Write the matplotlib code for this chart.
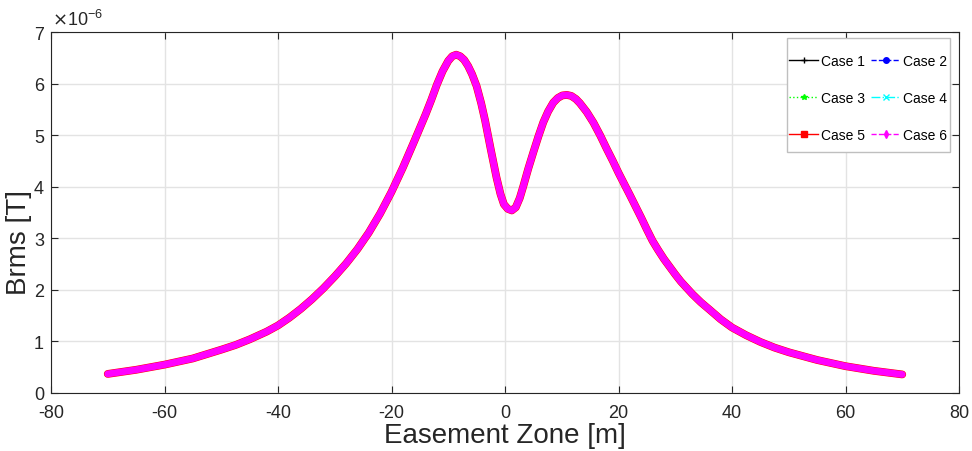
import matplotlib
matplotlib.use("Agg")
import matplotlib.pyplot as plt
from matplotlib.lines import Line2D
from matplotlib.patches import Rectangle
import numpy as np

plt.rcParams['font.family'] = ['Liberation Sans', 'DejaVu Sans']
plt.rcParams['axes.unicode_minus'] = False

# easement zone position [m] and Brms [x 1e-6 T]
x_m = [-70, -65, -60, -55, -50, -47.5, -45, -42, -40, -38, -36, -34, -32,
       -30, -28, -26, -24, -22, -20, -18, -16, -14, -13, -12, -11, -10,
       -9.3, -8.6, -7.9, -7.2, -6.5, -5.8, -5, -4.2, -3.5, -2.5, -1.5, -0.8,
       -0.2, 0.5, 1.2, 1.9, 2.6, 3.2, 4.1, 5.0, 5.9, 6.75, 7.6, 8.5, 9.3,
       10.1, 10.9, 11.7, 12.5, 13.2, 14.4, 15.6, 16.8, 17.9, 19, 20, 22, 24,
       25, 26, 27, 28, 29, 30, 31, 33, 34.5, 36, 38, 40, 42.5, 45, 47.5, 50,
       55, 60, 65, 70]
brms_e6 = [0.37, 0.45, 0.55, 0.67, 0.84, 0.93, 1.04, 1.19, 1.31, 1.46, 1.63,
           1.82, 2.03, 2.26, 2.51, 2.79, 3.11, 3.48, 3.90, 4.37, 4.88, 5.40,
           5.68, 5.98, 6.24, 6.44, 6.53, 6.56, 6.53, 6.46, 6.34, 6.18, 5.95,
           5.62, 5.28, 4.72, 4.18, 3.86, 3.66, 3.57, 3.54, 3.60, 3.78, 4.00,
           4.35, 4.67, 4.98, 5.25, 5.46, 5.63, 5.72, 5.77, 5.78, 5.76, 5.70,
           5.62, 5.45, 5.24, 4.99, 4.74, 4.50, 4.27, 3.84, 3.40, 3.17, 2.95,
           2.77, 2.60, 2.45, 2.30, 2.16, 1.92, 1.76, 1.62, 1.43, 1.27, 1.12,
           0.99, 0.88, 0.79, 0.64, 0.52, 0.43, 0.36]

cases = ['Case 1', 'Case 2', 'Case 3', 'Case 4', 'Case 5', 'Case 6']
colors = ['#000000', '#0000ff', '#00ff00', '#00ffff', '#ff0000', '#ff00ff']
styles = ['-', '--', ':', '-.', '-', '--']
markers = ['+', 'o', '*', 'x', 's', 'd']

x = np.array(x_m)
y = np.array(brms_e6) * 1e-6

fig = plt.figure(figsize=(9.72, 4.52), dpi=100)
ax = fig.add_axes([51 / 972, 1 - 394 / 452, 908 / 972, 361 / 452])

# all six cases overlap; dense markers in the original make a thick band
widths = [1.5, 2.5, 2.5, 2.5, 5.6, 4.9]
for lab, c, w in zip(cases, colors, widths):
    ax.plot(x, y, color=c, lw=w, solid_capstyle='round',
            solid_joinstyle='round')

ax.set_xlim(-80, 80)
ax.set_ylim(0, 7e-6)
ax.set_xticks(np.arange(-80, 81, 20))
ax.set_yticks(np.arange(0, 8) * 1e-6)
ax.set_yticklabels([str(i) for i in range(8)])
ax.grid(True, color='#e3e3e3', lw=1)
ax.set_axisbelow(True)
ax.tick_params(direction='in', length=5, labelsize=13, colors='#262626',
               top=True, right=True)
ax.tick_params(axis='x', pad=8)
ax.tick_params(axis='y', pad=5)
for s in ax.spines.values():
    s.set_color('#262626')
    s.set_linewidth(0.8)

ax.set_xlabel('Easement Zone [m]', fontsize=20, color='#262626', labelpad=1)
ax.set_ylabel('Brms [T]', fontsize=20, color='#262626')
ax.yaxis.set_label_coords(-0.021, 0.42)
fig.text(52 / 972, 1 - 26 / 452, r'$\times$10$^{\mathregular{-6}}$',
         fontsize=13, color='#262626', va='baseline')

handles = [Line2D([], [], color=c, ls=ls, marker=mk, markersize=4, lw=1)
           for c, ls, mk in zip(colors, styles, markers)]
order = [0, 2, 4, 1, 3, 5]
leg = fig.legend([handles[i] for i in order], [cases[i] for i in order],
                 ncol=2, loc='upper left',
                 bbox_to_anchor=(782 / 972, 1 - 48 / 452), fontsize=10,
                 handlelength=2.1, handletextpad=0.2, columnspacing=0.45,
                 labelspacing=1.67, borderpad=0, frameon=False)
fig.add_artist(Rectangle((787 / 972, 1 - 153 / 452), 163 / 972, 114 / 452,
                         transform=fig.transFigure, facecolor='white',
                         edgecolor='#bfbfbf', lw=1, zorder=2))
leg.set_zorder(3)

fig.savefig('out.png', dpi=100)
